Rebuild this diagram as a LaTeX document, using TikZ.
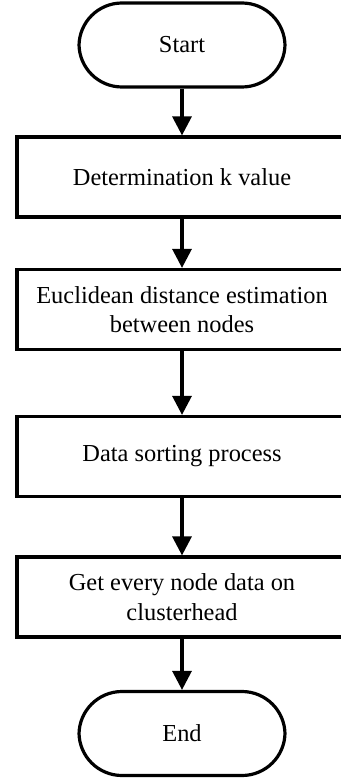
\documentclass[tikz,border=0pt]{standalone}
\usepackage{fontspec}
\setmainfont{Liberation Serif}
\usetikzlibrary{arrows.meta}

\begin{document}
\begin{tikzpicture}[x=1pt, y=1pt,
    terminal/.style={draw, line width=3.2pt, rounded corners=43pt,
        minimum width=206pt, minimum height=84pt, font=\fontsize{24.4}{29.3}\selectfont},
    process/.style={draw, line width=3.2pt, minimum width=330pt, minimum height=80pt,
        align=center, font=\fontsize{24.4}{29.3}\selectfont},
    flow/.style={line width=3.2pt, -{Triangle[width=19pt,length=19pt]}}]
                \useasboundingbox (0,0) rectangle (340,-778);

                % Terminals
                \node[terminal] (start) at (182,-45) {Start};
                \node[terminal] (end) at (182,-733.5) {End};

                % Process steps
                \node[process] (kvalue) at (182,-177) {Determination k value};
                \node[process] (euclid) at (182,-309.5) {Euclidean distance estimation\\between nodes};
                \node[process] (sorting) at (182,-456.5) {Data sorting process};
                \node[process] (gather) at (182,-597) {Get every node data on\\clusterhead};

                % Flow arrows
                \draw[flow] (start) -- (kvalue);
                \draw[flow] (kvalue) -- (euclid);
                \draw[flow] (euclid) -- (sorting);
                \draw[flow] (sorting) -- (gather);
                \draw[flow] (gather) -- (end);
            \end{tikzpicture}
\end{document}
